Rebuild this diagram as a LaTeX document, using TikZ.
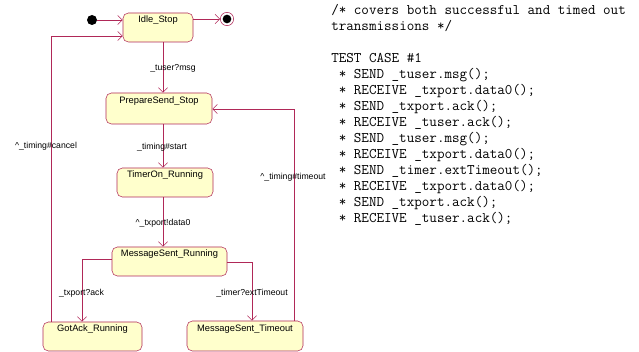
\documentclass[tikz,border=0pt]{standalone}
\usepackage{fontspec}
\setsansfont{Liberation Sans}
\definecolor{stateline}{RGB}{176,40,88}
\definecolor{statefill}{RGB}{255,255,204}
\usetikzlibrary{arrows.meta,positioning}
\tikzset{
  state/.style={draw=stateline, fill=statefill, rounded corners=4pt,
    font=\sffamily\fontsize{7}{8}\selectfont, minimum height=21.75pt,
    text height=5.5pt, text depth=12.25pt, inner sep=2pt},
  trans/.style={draw=stateline, -{Straight Barb[length=3.5pt,width=7pt]}},
  lbl/.style={font=\sffamily\fontsize{6.5}{8}\selectfont, inner sep=1pt},
  dot/.style={circle, fill=black, inner sep=0pt, minimum size=7.5pt},
}

\begin{document}
\begin{tikzpicture}[x=0.75pt,y=-0.75pt]
  \useasboundingbox (0,0) rectangle (639,352);
  % states
  \node[state, minimum width=52.5pt] (idle) at (158,27.5) {Idle\_Stop};
  \node[state, minimum width=79.5pt, minimum height=23.25pt] (prep) at (159,108.5) {PrepareSend\_Stop};
  \node[state, minimum width=72pt] (timer) at (165,182.5) {TimerOn\_Running};
  \node[state, minimum width=86.25pt] (msr) at (169.5,261.5) {MessageSent\_Running};
  \node[state, minimum width=74.25pt] (gotack) at (92.5,336.5) {GotAck\_Running};
  \node[state, minimum width=87pt, minimum height=22.5pt] (mst) at (245,336) {MessageSent\_Timeout};
  % pseudo states
  \node[dot] (init) at (92,20) {};
  \node[circle, draw=stateline, fill=white, inner sep=0pt, minimum size=10pt] (final) at (227,19) {};
  \node[dot, minimum size=6.5pt] (finaldot) at (final) {};
  % bend points
  \coordinate (spine) at (163,0);
  \coordinate (ackx) at (82,259);
  \coordinate (tox) at (252,262);
  \coordinate (tmo) at (294,109);
  \coordinate (cnl) at (51,36);
  % transitions
  \draw[trans] (init.east) -- (init.east -| idle.west);
  \draw[trans] (idle.east |- final) -- (final.west);
  \draw[trans] (idle.south -| spine) -- (prep.north -| spine);
  \draw[trans] (prep.south -| spine) -- (timer.north -| spine);
  \draw[trans] (timer.south -| spine) -- (msr.north -| spine);
  \draw[trans] (msr.west |- ackx) -| (gotack.north -| ackx);
  \draw[trans] (msr.east |- tox) -| (mst.north -| tox);
  \draw[trans] (mst.north -| tmo) |- (prep.east |- tmo);
  \draw[trans] (gotack.north -| cnl) |- (idle.west |- cnl);
  % transition labels
  \node[lbl] (lmsg) at (173,68) {\_tuser?msg};
  \node[lbl] (lstart) at (162,147) {\_timing\#start};
  \node[lbl] (ldata) at (163,223) {\textasciicircum\_txport!data0};
  \node[lbl] (lack) at (81.5,293) {\_txport?ack};
  \node[lbl] (lext) at (252,293) {\_timer?extTimeout};
  \node[lbl] (lcancel) at (46,146) {\textasciicircum\_timing\#cancel};
  \node[lbl] (ltimeout) at (293,177) {\textasciicircum\_timing\#timeout};
  % test case listing
  \node[anchor=north west, inner sep=0pt, align=left,
    font=\ttfamily\fontsize{11}{12}\selectfont] (tcase) at (331,4) {%
    /* covers both successful and timed out\\
    transmissions */\\[12pt]
    TEST CASE \#1\\
    \ * SEND \_tuser.msg();\\
    \ * RECEIVE \_txport.data0();\\
    \ * SEND \_txport.ack();\\
    \ * RECEIVE \_tuser.ack();\\
    \ * SEND \_tuser.msg();\\
    \ * RECEIVE \_txport.data0();\\
    \ * SEND \_timer.extTimeout();\\
    \ * RECEIVE \_txport.data0();\\
    \ * SEND \_txport.ack();\\
    \ * RECEIVE \_tuser.ack();};
\end{tikzpicture}
\end{document}
